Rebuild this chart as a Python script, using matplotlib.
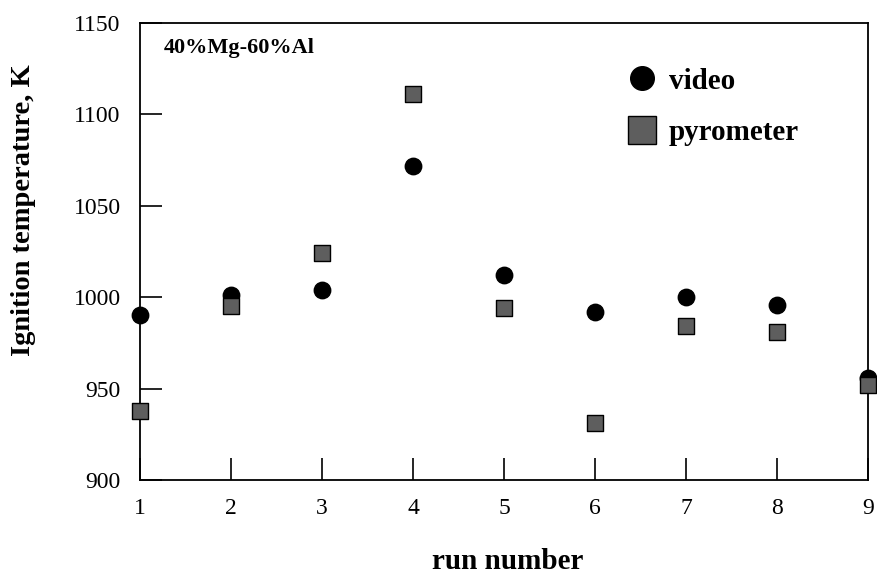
import matplotlib
matplotlib.use("Agg")
import matplotlib.pyplot as plt
from matplotlib.lines import Line2D

plt.rcParams['font.family'] = ['Liberation Serif', 'DejaVu Serif']

runs = [1, 2, 3, 4, 5, 6, 7, 8, 9]
video = [990, 1001, 1004, 1072, 1012, 992, 1000, 996, 956]
pyrometer = [938, 995, 1024, 1111, 994, 931, 984, 981, 952]
x_ticks = [1, 2, 3, 4, 5, 6, 7, 8, 9]
y_ticks = [900, 950, 1000, 1050, 1100, 1150]

fig = plt.figure(figsize=(8.78, 5.76), dpi=100)
ax = fig.add_axes([0.1595, 0.1667, 0.8291, 0.7933])

ax.scatter(runs, video, s=140, marker='o', color='black', zorder=3, clip_on=False)
ax.scatter(runs, pyrometer, s=120, marker='s', facecolor='#5e5e5e', edgecolor='black',
           linewidth=1.0, zorder=4, clip_on=False)

ax.set_xlim(1, 9)
ax.set_ylim(900, 1150)
ax.set_xticks(x_ticks)
ax.set_yticks(y_ticks)
ax.tick_params(axis='both', direction='in', length=16, width=1.2, labelsize=17,
               top=False, right=False)
ax.tick_params(axis='x', pad=13)
ax.tick_params(axis='y', pad=14)
for sp in ax.spines.values():
    sp.set_linewidth(1.3)

ax.set_xlabel('run number', fontsize=21, fontweight='bold', va='bottom')
ax.xaxis.set_label_coords(0.505, -0.208)
ax.set_ylabel('Ignition temperature, K', fontsize=20.5, fontweight='bold')
ax.yaxis.set_label_coords(-0.143, 0.59)

ax.text(0.032, 0.945, '40%Mg-60%Al', transform=ax.transAxes, fontsize=16,
        fontweight='bold', va='center', ha='left')

handles = [
    Line2D([], [], marker='o', linestyle='none', color='black', markersize=17),
    Line2D([], [], marker='s', linestyle='none', markerfacecolor='#5e5e5e',
           markeredgecolor='black', markersize=20),
]
ax.legend(handles, ['video', 'pyrometer'], loc='upper left',
          bbox_to_anchor=(0.63, 0.96), frameon=False, handletextpad=0.3,
          handlelength=1.2, labelspacing=0.85,
          prop={'size': 21, 'weight': 'bold'})

fig.savefig('out.png', dpi=100)
